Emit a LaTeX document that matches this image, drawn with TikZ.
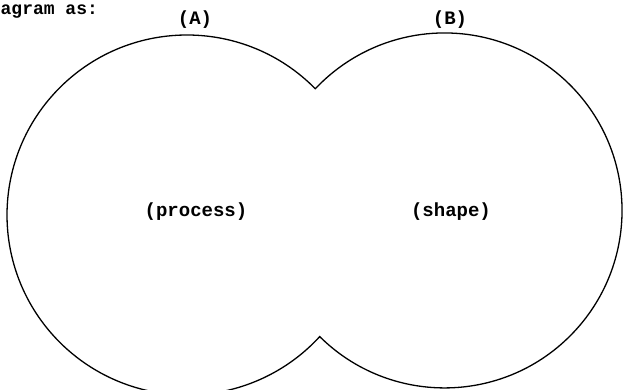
\documentclass[tikz,border=0pt]{standalone}
\usepackage{fontspec}
\setmonofont{Liberation Mono}
\begin{document}
\begin{tikzpicture}[x=1pt,y=1pt,
  lbl/.style={font=\ttfamily\bfseries\fontsize{19}{22}\selectfont, inner sep=0pt},
  outline/.style={draw=black, line width=1.3pt}]
\useasboundingbox (0,0) rectangle (625,390);
\clip (0,0) rectangle (625,390);
\fill[white] (0,0) rectangle (625,390);
\coordinate (L) at (187,175);
\coordinate (R) at (444.5,179.5);
\draw[outline] (L) ++(44.55:180) arc[start angle=44.55, end angle=317.5, radius=180]
  arc[start angle=225.3, end angle=496.7, radius=177.5] -- cycle;
\node[lbl, font=\ttfamily\bfseries\fontsize{18}{22}\selectfont, anchor=base west] (head) at (0.5,375) {agram as:};
\node[lbl] (A) at (195,370) {(A)};
\node[lbl] (B) at (450,370) {(B)};
\node[lbl] (proc) at (196,178) {(process)};
\node[lbl] (shape) at (451,178) {(shape)};
\end{tikzpicture}
\end{document}
